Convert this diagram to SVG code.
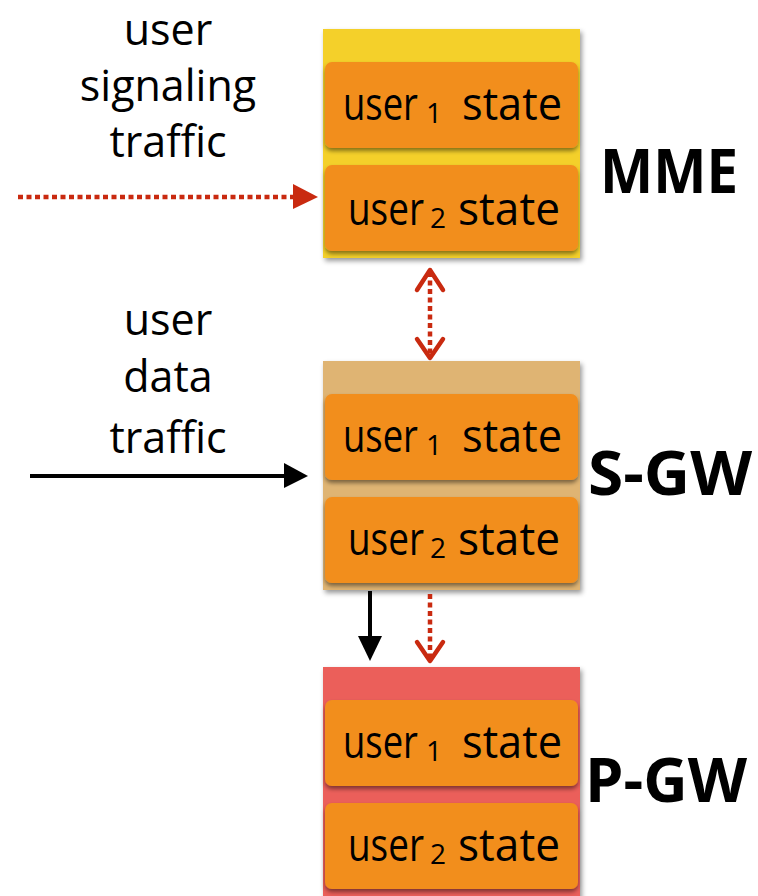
<svg xmlns="http://www.w3.org/2000/svg" width="758" height="896" viewBox="0 0 758 896">
<defs>
<style>
.lbl{font-family:"Open Sans","Liberation Sans",sans-serif;font-size:43px;fill:#000;text-anchor:middle}
.st{font-family:"Open Sans","Liberation Sans",sans-serif;font-size:46px;fill:#000}
.sub{font-size:28px}
.nm{font-family:"Open Sans","Liberation Sans",sans-serif;font-size:60px;font-weight:bold;fill:#000}
.box{fill:#F28E1C;filter:url(#bs)}
.red{stroke:#C92A10;stroke-width:4.5;stroke-dasharray:5 3.5;fill:none}
.redh{stroke:#C92A10;stroke-width:4.5;fill:none;stroke-linecap:round;stroke-linejoin:round}
.blk{stroke:#000;stroke-width:4;fill:none}
</style>
<filter id="bs" x="-10%" y="-10%" width="120%" height="130%">
<feDropShadow dx="0" dy="3" stdDeviation="2" flood-color="#000" flood-opacity="0.45"/>
</filter>
<filter id="cs" x="-10%" y="-10%" width="120%" height="120%">
<feDropShadow dx="2" dy="3" stdDeviation="2.5" flood-color="#000" flood-opacity="0.4"/>
</filter>
</defs>
<rect width="758" height="896" fill="#fff"/>

<g id="labels">
<text class="lbl" x="168" y="45">user</text>
<text class="lbl" x="168" y="101">signaling</text>
<text class="lbl" x="168" y="157">traffic</text>
<text class="lbl" x="168" y="335">user</text>
<text class="lbl" x="168" y="392">data</text>
<text class="lbl" x="168" y="453">traffic</text>
</g>

<g id="mme">
<rect x="323" y="29" width="257" height="229" fill="#F4D02C" filter="url(#cs)"/>
<rect class="box" x="325" y="62" width="253" height="86" rx="7"/>
<rect class="box" x="325" y="165" width="253" height="86" rx="7"/>
<text class="st" y="120"><tspan x="343" textLength="75" lengthAdjust="spacingAndGlyphs">user</tspan><tspan class="sub" x="426" y="123">1</tspan><tspan x="462" y="120" textLength="100" lengthAdjust="spacingAndGlyphs">state</tspan></text>
<text class="st" y="225"><tspan x="348" textLength="76" lengthAdjust="spacingAndGlyphs">user</tspan><tspan class="sub" x="430" y="228">2</tspan><tspan x="458" y="225" textLength="102" lengthAdjust="spacingAndGlyphs">state</tspan></text>
<text class="nm" x="600" y="193" textLength="138" lengthAdjust="spacingAndGlyphs">MME</text>
</g>

<g id="sgw">
<rect x="323" y="361" width="257" height="229" fill="#DFB473" filter="url(#cs)"/>
<rect class="box" x="325" y="394" width="253" height="86" rx="7"/>
<rect class="box" x="325" y="497" width="253" height="86" rx="7"/>
<text class="st" y="452"><tspan x="343" textLength="75" lengthAdjust="spacingAndGlyphs">user</tspan><tspan class="sub" x="426" y="455">1</tspan><tspan x="462" y="452" textLength="100" lengthAdjust="spacingAndGlyphs">state</tspan></text>
<text class="st" y="555"><tspan x="348" textLength="76" lengthAdjust="spacingAndGlyphs">user</tspan><tspan class="sub" x="430" y="558">2</tspan><tspan x="458" y="555" textLength="102" lengthAdjust="spacingAndGlyphs">state</tspan></text>
<text class="nm" x="588" y="495" textLength="164" lengthAdjust="spacingAndGlyphs">S-GW</text>
</g>

<g id="pgw">
<rect x="323" y="667" width="257" height="240" fill="#EB5F5A" filter="url(#cs)"/>
<rect class="box" x="325" y="700" width="253" height="86" rx="7"/>
<rect class="box" x="325" y="803" width="253" height="86" rx="7"/>
<text class="st" y="758"><tspan x="343" textLength="75" lengthAdjust="spacingAndGlyphs">user</tspan><tspan class="sub" x="426" y="761">1</tspan><tspan x="462" y="758" textLength="100" lengthAdjust="spacingAndGlyphs">state</tspan></text>
<text class="st" y="861"><tspan x="348" textLength="76" lengthAdjust="spacingAndGlyphs">user</tspan><tspan class="sub" x="430" y="864">2</tspan><tspan x="458" y="861" textLength="102" lengthAdjust="spacingAndGlyphs">state</tspan></text>
<text class="nm" x="585" y="802" textLength="162" lengthAdjust="spacingAndGlyphs">P-GW</text>
</g>

<g id="connectors">
<line class="red" x1="18" y1="197" x2="294" y2="197"/>
<polygon points="293,184 318,197 293,209" fill="#C92A10"/>

<line class="red" x1="430" y1="272" x2="430" y2="356"/>
<polyline class="redh" points="417,290 430,270 443,290"/>
<polyline class="redh" points="417,339 430,358 443,339"/>

<line class="blk" x1="30" y1="476" x2="286" y2="476"/>
<polygon points="284,463 308,476 284,488" fill="#000"/>

<line class="blk" x1="370" y1="591" x2="370" y2="638"/>
<polygon points="358,636 382,636 370,661" fill="#000"/>

<line class="red" x1="430" y1="594" x2="430" y2="658"/>
<polyline class="redh" points="417,642 430,661 443,642"/>
</g>
</svg>
